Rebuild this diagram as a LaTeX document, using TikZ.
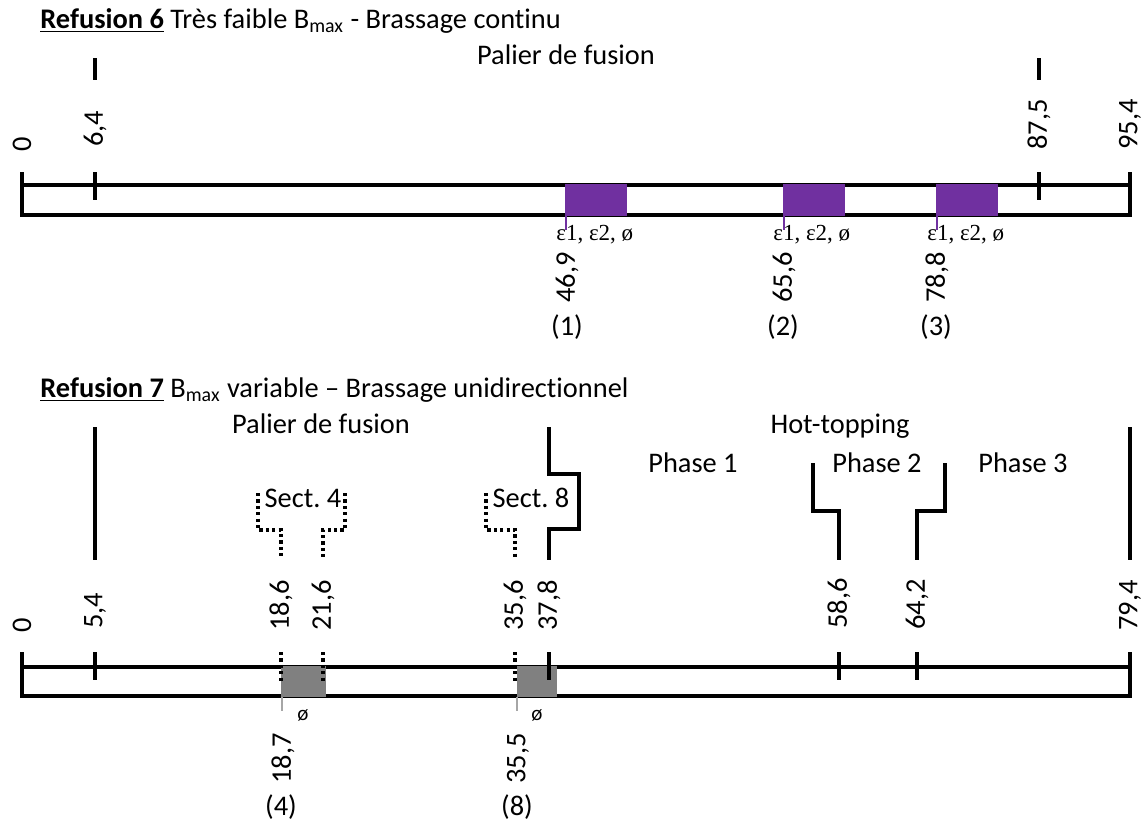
\documentclass[tikz,border=0pt]{standalone}
\usepackage{fontspec}
\setmainfont{Carlito}[RawFeature={-liga;-clig;-calt;-dlig}]
\newfontfamily\grfont{Liberation Serif}
\definecolor{barpurple}{HTML}{7030A0}
\definecolor{bargrey}{HTML}{808080}
\definecolor{ticgrey}{HTML}{A6A6A6}
\frenchspacing
\begin{document}
\begin{tikzpicture}[x=0.5pt,y=-0.5pt,
  bar/.style={line width=1.6pt},
  dotl/.style={line width=1.6pt, dash pattern=on 1.6pt off 1.6pt},
  txt/.style={font=\fontsize{14.2}{16}\selectfont, inner sep=0pt},
  num/.style={txt, rotate=90},
  eps/.style={font=\grfont\fontsize{11.5}{13}\selectfont, inner sep=0pt, anchor=base west},
  phi/.style={font=\fontsize{10.5}{12}\selectfont, inner sep=0pt},
  pbox/.style={fill=barpurple},
  gbox/.style={fill=bargrey},
  ptick/.style={draw=barpurple, line width=1.1pt},
  gtick/.style={draw=ticgrey, line width=1.3pt}]
\useasboundingbox (0,0) rectangle (1146,827);

% ================= Refusion 6 =================
\node[txt, anchor=base west] (title6) at (40,28) {\textbf{\underline{Refusion 6}} Très faible B\textsubscript{max} - Brassage continu};
\node[txt, anchor=base] (pal6) at (566,64) {Palier de fusion};

% bar
\draw[bar] (22,172) -- (22,215) -- (1130,215) -- (1130,172);
\draw[bar] (22,185) -- (1130,185);

% colored sections
\fill[pbox] (565,184) rectangle (627,216);
\fill[pbox] (783,184) rectangle (845,216);
\fill[pbox] (936,184) rectangle (998,216);

% ticks
\draw[bar] (95,172) -- (95,200);
\draw[bar] (1039,172) -- (1039,200);
\draw[bar] (95,58) -- (95,80);
\draw[bar] (1039,58) -- (1039,80);

% purple ticks
\draw[ptick] (566,215) -- (566,230);
\draw[ptick] (784,215) -- (784,230);
\draw[ptick] (937,215) -- (937,230);

% labels above
\node[num, anchor=west] (a0) at (22,152) {0};
\node[num, anchor=west] (a64) at (95,147) {6,4};
\node[num, anchor=west] (a875) at (1039,150) {87,5};
\node[num, anchor=west] (a954) at (1130,150) {95,4};

% labels below
\node[eps] (e1) at (556,240) {ε1, ε2, ø};
\node[eps] (e2) at (773,240) {ε1, ε2, ø};
\node[eps] (e3) at (927,240) {ε1, ε2, ø};
\node[num, anchor=east] (b469) at (567,252) {46,9};
\node[num, anchor=east] (b656) at (784,252) {65,6};
\node[num, anchor=east] (b788) at (937,252) {78,8};
\node[txt, anchor=base] (s1) at (567,335) {(1)};
\node[txt, anchor=base] (s2) at (783,335) {(2)};
\node[txt, anchor=base] (s3) at (936,335) {(3)};

% ================= Refusion 7 =================
\node[txt, anchor=base west] (title7) at (40,397) {\textbf{\underline{Refusion 7}} B\textsubscript{max} variable – Brassage unidirectionnel};
\node[txt, anchor=base] (pal7) at (321,433) {Palier de fusion};
\node[txt, anchor=base] (hot) at (840,433) {Hot-topping};
\node[txt, anchor=base] (ph1) at (693,472) {Phase 1};
\node[txt, anchor=base] (ph2) at (877,472) {Phase 2};
\node[txt, anchor=base] (ph3) at (1023,472) {Phase 3};
\node[txt, anchor=base] (sect4) at (303,507) {Sect. 4};
\node[txt, anchor=base] (sect8) at (531,507) {Sect. 8};

% boundary lines
\draw[bar] (95,427) -- (95,560);
\draw[bar] (1130,427) -- (1130,560);
\draw[bar] (549,427) -- (549,474) -- (579,474) -- (579,529) -- (549,529) -- (549,560);
\draw[bar] (813,463) -- (813,511) -- (839,511) -- (839,560);
\draw[bar] (945,463) -- (945,511) -- (917,511) -- (917,560);
\draw[dotl] (258,493) -- (258,530) -- (281,530) -- (281,557);
\draw[dotl] (345,493) -- (345,530) -- (323,530) -- (323,557);
\draw[dotl] (486,493) -- (486,530) -- (515,530) -- (515,557);

% bar
\draw[bar] (22,652) -- (22,696) -- (1130,696) -- (1130,652);
\draw[bar] (22,667) -- (1130,667);

% grey sections
\fill[gbox] (281,666) rectangle (326,697);
\fill[gbox] (517,666) rectangle (557,697);

% ticks
\draw[bar] (95,652) -- (95,680);
\draw[bar] (549,652) -- (549,680);
\draw[bar] (839,652) -- (839,680);
\draw[bar] (917,652) -- (917,680);
\draw[dotl] (281,652) -- (281,682);
\draw[dotl] (323,652) -- (323,682);
\draw[dotl] (515,652) -- (515,682);

% grey ticks
\draw[gtick] (282,697) -- (282,711);
\draw[gtick] (517,697) -- (517,711);

% labels above
\node[num, anchor=west] (c0) at (22,633) {0};
\node[num, anchor=west] (c54) at (95,629) {5,4};
\node[num, anchor=west] (c186) at (281,631) {18,6};
\node[num, anchor=west] (c216) at (323,631) {21,6};
\node[num, anchor=west] (c356) at (515,631) {35,6};
\node[num, anchor=west] (c378) at (549,631) {37,8};
\node[num, anchor=west] (c586) at (839,629) {58,6};
\node[num, anchor=west] (c642) at (917,630) {64,2};
\node[num, anchor=west] (c794) at (1130,631) {79,4};

% labels below
\node[phi] (o4) at (303,715) {ø};
\node[phi] (o8) at (537,715) {ø};
\node[num, anchor=east] (d187) at (283,733) {18,7};
\node[num, anchor=east] (d355) at (518,733) {35,5};
\node[txt, anchor=base] (s4) at (281,815) {(4)};
\node[txt, anchor=base] (s8) at (517,815) {(8)};
\end{tikzpicture}
\end{document}
